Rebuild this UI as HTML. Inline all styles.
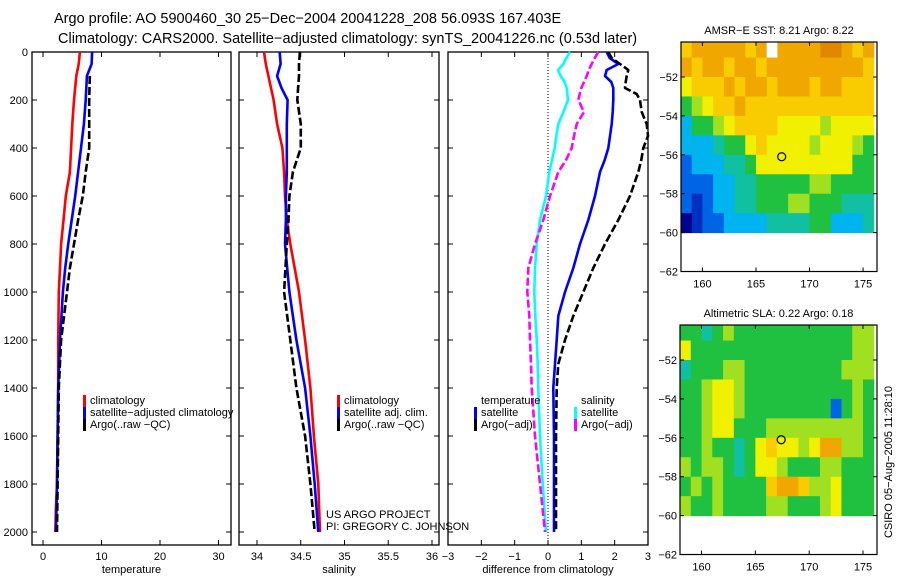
<!DOCTYPE html>
<html><head><meta charset="utf-8"><style>
body{margin:0;background:#fff;}
svg{display:block;font-family:"Liberation Sans",sans-serif;}
</style></head><body>
<svg id="fig" width="900" height="580" viewBox="0 0 900 580" xmlns="http://www.w3.org/2000/svg">
<rect width="900" height="580" fill="#fff"/>
<text x="54" y="23" font-size="14.5">Argo profile: AO 5900460_30 25−Dec−2004 20041228_208 56.093S 167.403E</text>
<text x="58" y="43" font-size="14.5">Climatology: CARS2000. Satellite−adjusted climatology: synTS_20041226.nc (0.53d later)</text>
<g id="g"></g>
</svg>
<script>
// ---------- data ----------
const depthTicks=[0,200,400,600,800,1000,1200,1400,1600,1800,2000];
const tempTicks=[0,10,20,30];
const salTicks=[34,34.5,35,35.5,36];
const diffTicks=[-3,-2,-1,0,1,2,3];
const tDepth=[0,50,100,200,300,400,500,600,700,800,900,1000,1200,1400,1600,1800,1900,2000];
const tempClim=[6.3,6.1,5.7,5.3,5.0,4.8,4.6,3.9,3.5,3.1,2.9,2.7,2.6,2.6,2.5,2.4,2.2,2.1];
const tempSat=[8.4,8.3,7.5,7.3,7.0,6.5,6.0,5.5,4.9,4.3,3.8,3.4,2.9,2.6,2.5,2.4,2.3,2.2];
const tArgoDepth=[100,200,300,400,500,600,700,800,900,1000,1200,1400,1600,1800,2000];
const tempArgo=[8.0,7.9,7.9,7.9,7.3,6.8,6.0,5.3,4.6,4.1,3.1,2.7,2.6,2.5,2.4];
const sDepth=[0,50,100,150,200,300,400,500,600,700,800,1000,1200,1400,1600,1800,2000];
const salClim=[34.08,34.1,34.13,34.16,34.19,34.23,34.29,34.31,34.32,34.34,34.38,34.48,34.55,34.61,34.65,34.70,34.72];
const salSat=[34.26,34.27,34.23,34.28,34.35,34.34,34.34,34.34,34.33,34.33,34.32,34.37,34.45,34.55,34.61,34.66,34.70];
const salArgo=[34.49,34.48,34.48,34.47,34.46,34.50,34.50,34.41,34.37,34.36,34.34,34.31,34.38,34.45,34.55,34.61,34.66];
const dDepth=[0,25,50,75,100,125,150,175,200,250,300,350,400,450,500,600,700,800,900,1000,1100,1200,1300,1400,1600,1800,2000];
const diffTempSat=[1.76,1.85,2.11,1.76,1.71,1.9,1.96,1.96,1.96,1.94,1.91,1.86,1.81,1.7,1.56,1.41,1.21,0.96,0.76,0.51,0.31,0.26,0.21,0.16,0.18,0.18,0.18];
const diffTempArgo=[1.81,1.91,2.16,2.41,2.36,2.33,2.31,2.66,2.76,2.81,2.96,3.0,2.86,2.8,2.71,2.46,2.11,1.71,1.36,1.06,0.76,0.51,0.31,0.26,0.24,0.24,0.24];
const diffSalSat=[0.66,0.55,0.46,0.3,0.38,0.5,0.56,0.58,0.6,0.46,0.31,0.25,0.2,0.12,0.04,-0.06,-0.24,-0.34,-0.39,-0.41,-0.38,-0.34,-0.31,-0.29,-0.24,-0.16,-0.06];
const diffSalArgo=[1.51,1.4,1.31,1.22,1.16,1.08,1.0,0.95,0.91,1.08,0.86,0.78,0.71,0.54,0.31,0.06,-0.14,-0.39,-0.59,-0.62,-0.56,-0.54,-0.51,-0.49,-0.39,-0.24,-0.09];
const lonTicks=[160,165,170,175];
const latTicks=[-52,-54,-56,-58,-60,-62];
const sstGrid=[
[8,9,9,9,9,9,8,9,-1,9,9,9,9,10,10,9,8,9],
[9,8,9,9,8,9,9,8,9,9,9,9,9,9,9,9,9,8],
[7,8,8,8,9,8,9,9,8,9,9,9,8,9,9,8,8,8],
[5,6,7,8,8,9,8,8,8,8,8,8,8,8,8,8,8,8],
[3,5,5,6,7,8,8,8,8,7,7,7,7,6,7,7,7,7],
[3,3,3,4,5,5,7,8,7,7,7,7,6,7,7,7,6,5],
[2,3,3,3,4,4,5,7,7,7,7,7,7,7,7,7,5,5],
[2,2,2,3,3,4,4,5,5,5,5,5,6,6,5,5,5,5],
[2,1,2,3,3,4,4,5,5,5,6,6,5,5,5,4,4,4],
[0,1,2,2,3,3,3,3,4,4,4,4,5,5,3,3,3,4]];
const slaGrid=[
[5,5,4,5,6,5,5,5,5,5,5,5,5,5,5,5,6,6],
[7,5,5,5,5,5,5,5,5,5,5,5,5,5,5,5,6,6],
[4,5,5,5,6,6,5,5,5,5,5,5,5,5,5,6,6,6],
[5,5,6,7,7,6,5,5,5,5,5,5,5,5,5,5,6,5],
[5,5,6,7,7,6,5,5,5,5,5,5,5,5,2,5,6,5],
[5,5,6,7,7,5,5,5,6,6,6,6,6,6,6,6,6,5],
[5,5,6,5,5,4,5,7,8,7,7,6,7,9,9,6,6,5],
[6,5,6,6,5,4,5,7,7,6,5,5,5,6,6,5,5,5],
[5,6,5,6,5,5,5,5,8,9,9,8,6,6,7,5,5,5],
[6,5,5,6,5,5,5,5,6,6,5,5,5,6,7,5,5,5]];
const floatLon=167.4, floatLat=-56.1;
const cmap=['#00008f','#0030c0','#0064e6','#00b4f0','#10c0a0','#20c040','#a0e020','#f0f000','#f8cc00','#f0a800','#e08800'];

// ---------- drawing ----------
const NS='http://www.w3.org/2000/svg';
const G=document.getElementById('g');
function mk(tag,attrs,parent,txt){const e=document.createElementNS(NS,tag);for(const k in attrs)e.setAttribute(k,attrs[k]);if(txt!==undefined)e.textContent=txt;(parent||G).appendChild(e);return e;}
const yD=d=>52+d*0.24;
const PB=545;

function panel(name,x0,x1,xs,ticks,fmt,label,showY){
  const g=mk('g',{});
  
  
  const r=mk('rect',{x:x0,y:52,width:x1-x0,height:PB-52,fill:'none',stroke:'#000','stroke-width':1.3},g);
  
  
  depthTicks.forEach(d=>{
    mk('line',{x1:x0,x2:x0+5,y1:yD(d),y2:yD(d),stroke:'#000'},g);
    mk('line',{x1:x1-5,x2:x1,y1:yD(d),y2:yD(d),stroke:'#000'},g);
    if(showY){const t=mk('text',{x:x0-4,y:yD(d)+4,'font-size':11,'text-anchor':'end'},g,String(d));
      
      }
  });
  ticks.forEach(v=>{
    const x=xs(v);
    mk('line',{x1:x,x2:x,y1:PB,y2:PB-5,stroke:'#000'},g);
    mk('line',{x1:x,x2:x,y1:52,y2:57,stroke:'#000'},g);
    const t=mk('text',{x:x,y:PB+15,'font-size':11,'text-anchor':'middle'},g,fmt(v));
    
    
  });
  const l=mk('text',{x:(x0+x1)/2,y:573,'font-size':11,'text-anchor':'middle'},g,label);
  
  
  return g;
}
function line(g,name,depths,vals,xs,color,dash){
  const pts=depths.map((d,i)=>xs(vals[i]).toFixed(1)+','+yD(d).toFixed(1)).join(' ');
  const p=mk('polyline',{points:pts,fill:'none',stroke:color,'stroke-width':2.6,'stroke-linejoin':'round'},g);
  if(dash)p.setAttribute('stroke-dasharray','8 3');
  
  
}
function legend(g,x,y,items){
  items.forEach((it,i)=>{
    const yy=y+i*12;
    if(it.c){mk('rect',{x:x,y:yy-9,width:3,height:12,fill:it.c},g);}
    const t=mk('text',{x:x+7,y:yy,'font-size':11},g,it.t);
    
    
  });
}
// temperature
const xT=v=>43+5.85*v;
const p1=panel('temperature',32,231,xT,tempTicks,v=>String(v),'temperature',true);
line(p1,'temp-climatology-line',tDepth,tempClim,xT,'#f00');
line(p1,'temp-satellite-line',tDepth,tempSat,xT,'#00f');
line(p1,'temp-argo-line',tArgoDepth,tempArgo,xT,'#000',true);
legend(p1,83,404,[{c:'#f00',t:'climatology'},{c:'#00f',t:'satellite−adjusted climatology'},{c:'#000',t:'Argo(..raw −QC)'}]);
// salinity
const xS=v=>257+87.5*(v-34);
const p2=panel('salinity',239,439,xS,salTicks,v=>String(v),'salinity',false);
line(p2,'sal-climatology-line',sDepth,salClim,xS,'#f00');
line(p2,'sal-satellite-line',sDepth,salSat,xS,'#00f');
line(p2,'sal-argo-line',sDepth,salArgo,xS,'#000',true);
legend(p2,337,404,[{c:'#f00',t:'climatology'},{c:'#00f',t:'satellite adj. clim.'},{c:'#000',t:'Argo(..raw −QC)'}]);
let t1=mk('text',{x:326,y:518,'font-size':11},p2,'US ARGO PROJECT');


let t2=mk('text',{x:326,y:530,'font-size':11},p2,'PI: GREGORY C. JOHNSON');


// difference
const xDf=v=>548+33.33*v;
const p3=panel('difference',448,648,xDf,diffTicks,v=>v<0?'−'+(-v):String(v),'difference from climatology',false);
mk('line',{x1:xDf(0),x2:xDf(0),y1:52,y2:PB,stroke:'#000','stroke-dasharray':'1 2'},p3);
line(p3,'diff-sal-sat-line',dDepth,diffSalSat,xDf,'#0ff');
line(p3,'diff-sal-argo-line',dDepth,diffSalArgo,xDf,'#f0f',true);
line(p3,'diff-temp-sat-line',dDepth,diffTempSat,xDf,'#00f');
line(p3,'diff-temp-argo-line',dDepth,diffTempArgo,xDf,'#000',true);
legend(p3,474,404,[{t:'temperature'},{c:'#00f',t:'satellite'},{c:'#000',t:'Argo(−adj)'}]);
legend(p3,574,404,[{t:'salinity'},{c:'#0ff',t:'satellite'},{c:'#f0f',t:'Argo(−adj)'}]);

// maps
function map(name,grid,x0,x1,yTop,title){
  const g=mk('g',{});
  
  
  const lx=v=>x0+(v-158)*(x1-x0)/18.3;
  const ly=v=>yTop+(-50.2-v)*19.45;
  grid.forEach((row,r)=>row.forEach((v,c)=>{
    const x=lx(158+c), y=ly(-50-r);
    const xa=c===0?x0:x, ya=r===0?yTop:y;
    const cell=mk('rect',{x:xa,y:ya,width:lx(159+c)-xa+0.5,height:ly(-51-r)-ya+0.5,fill:v<0?'#fff':cmap[v]},g);
    
    
  }));
  mk('rect',{x:x0,y:yTop,width:x1-x0,height:ly(-62)-yTop,fill:'none',stroke:'#000','stroke-width':1.2},g);
  latTicks.forEach(v=>{
    const y=ly(v);
    mk('line',{x1:x0,x2:x0+4,y1:y,y2:y,stroke:'#000'},g);
    mk('line',{x1:x1-4,x2:x1,y1:y,y2:y,stroke:'#000'},g);
    const t=mk('text',{x:x0-3,y:y+4,'font-size':11,'text-anchor':'end'},g,String(v).replace('-','−'));
    
    
  });
  lonTicks.forEach(v=>{
    const x=lx(v), yb=ly(-62);
    mk('line',{x1:x,x2:x,y1:yb,y2:yb-4,stroke:'#000'},g);
    mk('line',{x1:x,x2:x,y1:yTop,y2:yTop+4,stroke:'#000'},g);
    const t=mk('text',{x:x,y:yb+16,'font-size':11,'text-anchor':'middle'},g,String(v));
    
    
  });
  const c=mk('circle',{cx:lx(floatLon),cy:ly(floatLat),r:4,fill:'none',stroke:'#000','stroke-width':1.2},g);
  
  
  const tt=mk('text',{x:(x0+x1)/2,y:yTop-8,'font-size':11,'text-anchor':'middle'},g,title);
  
  
}
map('sst',sstGrid,681,877,42,'AMSR−E SST: 8.21 Argo: 8.22');
map('sla',slaGrid,680,877,325,'Altimetric SLA: 0.22 Argo: 0.18');
const st=mk('text',{x:0,y:0,'font-size':11,'text-anchor':'middle',transform:'translate(892,462) rotate(-90)'},G,'CSIRO 05−Aug−2005 11:28:10');


</script>
</body></html>
